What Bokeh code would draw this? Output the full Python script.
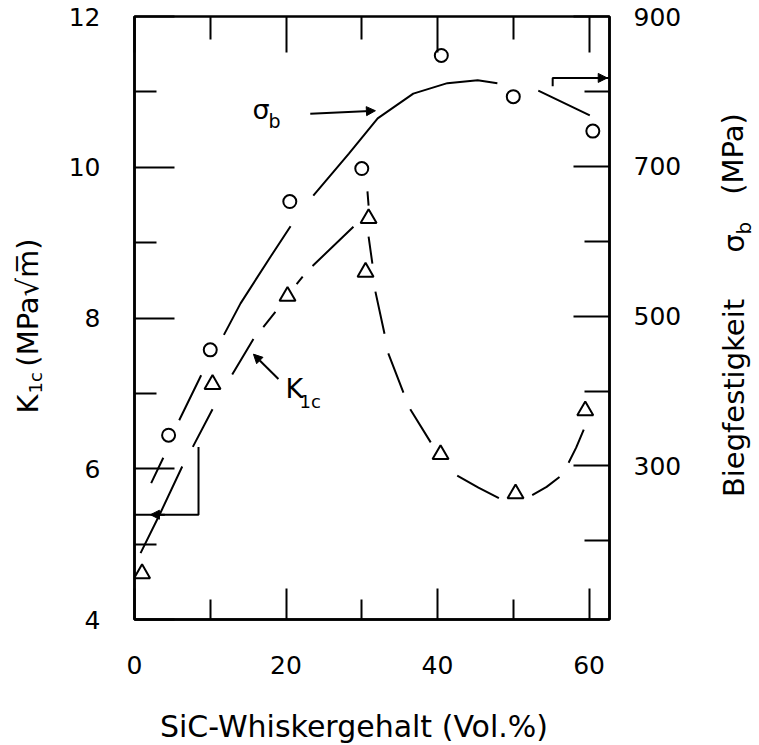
import math
from bokeh.plotting import figure
from bokeh.layouts import row, column
from bokeh.models import Range1d, LinearAxis, FixedTicker, Label, Arrow, NormalHead
from bokeh.core.properties import value
from bokeh.embed import file_html
from bokeh.resources import INLINE

nan = float("nan")

# ---- data ----
whisker_circ = [4.5, 10.0, 20.5, 30.0, 40.5, 50.0, 60.5]          # Vol.%
sigma_b = [341, 455, 653, 697, 848, 793, 747]                      # MPa (right axis)

whisker_tri = [1.0, 10.3, 20.2, 30.9, 30.5, 40.4, 50.3, 59.5]      # Vol.%
k1c = [4.61, 7.12, 8.29, 9.32, 8.61, 6.19, 5.67, 6.77]             # MPa*sqrt(m)

# hand-drawn trend curves (NaN = gap in the drawn line)
sigma_curve_x = [2.2, 3.8, nan, 5.9, 8.8, nan, 11.8, 14.0, 18.0, 20.6, nan,
                 23.6, 28.3, 32.1, 36.8, 41.3, 45.3, 47.9, nan, 53.3, 60.1]
sigma_curve_y = [277, 311, nan, 361, 421, nan, 475, 517, 580, 620, nan,
                 661, 717, 764, 797, 811, 815, 811, nan, 801, 768]

k1c_curve_x = [0.8, 3.4, 6.3, nan, 7.7, 10.3, nan, 12.9, 15.7, nan, 17.0, 18.6, nan,
               21.4, 22.2, nan, 23.5, 28.9, nan, 30.75, 30.9, nan, 30.9, 31.4, nan,
               31.8, 33.0, nan, 33.5, 35.5, nan, 36.4, 39.1, nan, 42.6, 45.4, 48.1, nan,
               52.5, 54.4, 56.1, nan, 57.3, 58.3, 59.3]
k1c_curve_y = [4.88, 5.41, 6.03, nan, 6.29, 6.79, nan, 7.25, 7.72, nan, 7.88, 8.08, nan,
               8.45, 8.55, nan, 8.69, 9.21, nan, 9.68, 9.49, nan, 9.08, 8.72, nan,
               8.35, 7.79, nan, 7.53, 7.01, nan, 6.79, 6.35, nan, 5.91, 5.75, 5.61, nan,
               5.65, 5.76, 5.89, nan, 6.08, 6.28, 6.52]

# bracket markers telling which axis belongs to which curve
k_bracket_x = [8.45, 8.45, 0.0]
k_bracket_y = [6.29, 5.39, 5.39]
s_bracket_x = [55.2, 55.2, 62.7]
s_bracket_y = [807, 818, 818]

x_ticks = [0, 20, 40, 60]
x_minor = [10, 30, 50]
k_ticks = [4, 6, 8, 10, 12]
k_minor = [5, 7, 9, 11]
s_ticks = [300, 500, 700, 900]
s_minor = [200, 400, 600, 800]

x_title = "SiC-Whiskergehalt (Vol.%)"
left_title = ["K", "1c", "(MPa√m\u0305)"]
right_title = ["Biegfestigkeit", "σ", "b", "(MPa)"]

FONT = "DejaVu Sans"
TICK_FS = "25px"
LAB_FS = "29px"
R = math.pi / 2

# ---- layout geometry (pixels) ----
LW, MW, RW = 56, 644, 58
MH, BH = 695, 49
TOP, BOT = 16, 76          # borders of the main figure (shared by the row)

p = figure(width=MW, height=MH, title=None,
           x_range=Range1d(0, 62.7), y_range=Range1d(4, 12),
           output_backend="svg", toolbar_location=None,
           x_axis_location=None, y_axis_location=None,
           min_border_left=78, min_border_right=91,
           min_border_top=TOP, min_border_bottom=BOT)
p.extra_y_ranges = {"sigma": Range1d(95, 900)}
p.grid.visible = False
p.outline_line_color = "black"
p.outline_line_width = 2.5
p.background_fill_color = "white"
p.border_fill_color = "white"


def style_axis(ax, tin, mtin, standoff, fs=TICK_FS):
    ax.major_tick_in = tin
    ax.major_tick_out = 0
    ax.minor_tick_in = mtin
    ax.minor_tick_out = 0
    ax.major_tick_line_width = 2
    ax.minor_tick_line_width = 2
    ax.major_tick_line_color = "black"
    ax.minor_tick_line_color = "black"
    ax.axis_line_width = 2.5
    ax.axis_line_color = "black"
    ax.major_label_standoff = standoff
    ax.major_label_text_font = FONT
    ax.major_label_text_font_size = fs
    ax.major_label_text_color = "black"


bottom = LinearAxis(ticker=FixedTicker(ticks=x_ticks, minor_ticks=x_minor))
style_axis(bottom, 31, 20, 36)
p.add_layout(bottom, "below")

# top edge: unlabelled ticks only (long ones at 20/40/60, short ones at 10/30/50)
top_long = LinearAxis(ticker=FixedTicker(ticks=[], minor_ticks=x_ticks))
style_axis(top_long, 0, 36, 0)
top_long.axis_line_color = None
p.add_layout(top_long, "above")
top_short = LinearAxis(ticker=FixedTicker(ticks=[], minor_ticks=x_minor))
style_axis(top_short, 0, 23, 0)
top_short.axis_line_color = None
p.add_layout(top_short, "above")

left = LinearAxis(ticker=FixedTicker(ticks=k_ticks, minor_ticks=k_minor))
style_axis(left, 40, 22, 34)
p.add_layout(left, "left")

right = LinearAxis(y_range_name="sigma", ticker=FixedTicker(ticks=s_ticks, minor_ticks=s_minor))
style_axis(right, 36, 25, 24)
p.add_layout(right, "right")

# curves
p.line(sigma_curve_x, sigma_curve_y, y_range_name="sigma", line_color="black", line_width=2)
p.line(k1c_curve_x, k1c_curve_y, line_color="black", line_width=2)

# brackets
p.line(k_bracket_x, k_bracket_y, line_color="black", line_width=2)
p.line(s_bracket_x, s_bracket_y, y_range_name="sigma", line_color="black", line_width=2)

# markers
p.scatter(whisker_circ, sigma_b, y_range_name="sigma", marker="circle", size=13,
          fill_color="white", line_color="black", line_width=2)
p.scatter(whisker_tri, k1c, marker="triangle", size=16,
          fill_color="white", line_color="black", line_width=2)


def head():
    return NormalHead(size=9, fill_color="black", line_color="black", line_width=1)


p.add_layout(Arrow(end=head(), x_start=4.0, y_start=5.39, x_end=2.1, y_end=5.39,
                   line_width=2, line_color="black"))
p.add_layout(Arrow(end=head(), x_start=58.0, y_start=818, x_end=62.4, y_end=818,
                   y_range_name="sigma", line_width=2, line_color="black"))
p.add_layout(Arrow(end=head(), x_start=23.2, y_start=10.71, x_end=31.8, y_end=10.75,
                   line_width=2, line_color="black"))
p.add_layout(Arrow(end=head(), x_start=19.0, y_start=7.19, x_end=15.7, y_end=7.52,
                   line_width=2, line_color="black"))


def lab(x, y, text, fs):
    p.add_layout(Label(x=x, y=y, text=text, text_font=FONT, text_font_size=fs,
                       text_color="black", text_align="center", text_baseline="middle"))


# in-plot annotations (anchored at their centres)
lab(16.7, 10.77, "σ", "27px")
lab(18.5, 10.61, "b", "19px")
lab(21.1, 7.06, "K", "27px")
lab(23.2, 6.89, "1c", "18px")


def title_fig(w, h, top_b=0, bot_b=0):
    # one data unit = one pixel; y = h - (pixel row measured from the top of this figure)
    f = figure(width=w, height=h, title=None,
               x_range=Range1d(0, w), y_range=Range1d(bot_b, h - top_b),
               output_backend="svg", toolbar_location=None,
               x_axis_location=None, y_axis_location=None,
               min_border=0, min_border_left=0, min_border_right=0,
               min_border_top=top_b, min_border_bottom=bot_b)
    f.grid.visible = False
    f.outline_line_color = None
    f.background_fill_color = "white"
    f.border_fill_color = "white"
    return f


def txt(f, h, x, y_from_top, s, fs, angle=0.0):
    f.text(x=[x], y=[h - y_from_top], text=[s], angle=angle, text_font=value(FONT),
           text_font_size=value(fs), text_color="black",
           text_align="center", text_baseline="middle")


# left axis title (rotated, reads upward)
lf = title_fig(LW, MH, TOP, BOT)
txt(lf, MH, 27.0, 403.5, left_title[0], LAB_FS, R)
txt(lf, MH, 34.8, 382.3, left_title[1], "18px", R)
txt(lf, MH, 27.0, 302.0, left_title[2], LAB_FS, R)

# right axis title (rotated, reads upward); x measured from this figure's left edge
rf = title_fig(RW, MH, TOP, BOT)
txt(rf, MH, 33.0, 397.5, right_title[0], LAB_FS, R)
txt(rf, MH, 33.0, 242.8, right_title[1], LAB_FS, R)
txt(rf, MH, 43.1, 227.6, right_title[2], "20px", R)
txt(rf, MH, 32.0, 153.5, right_title[3], LAB_FS, R)

# x axis title
bf = title_fig(LW + MW + RW, BH)
txt(bf, BH, 353.5, 31.0, x_title, "30px")

layout = column(row(lf, p, rf, spacing=0), bf, spacing=0)

open("out.html", "w").write(file_html(layout, INLINE))
